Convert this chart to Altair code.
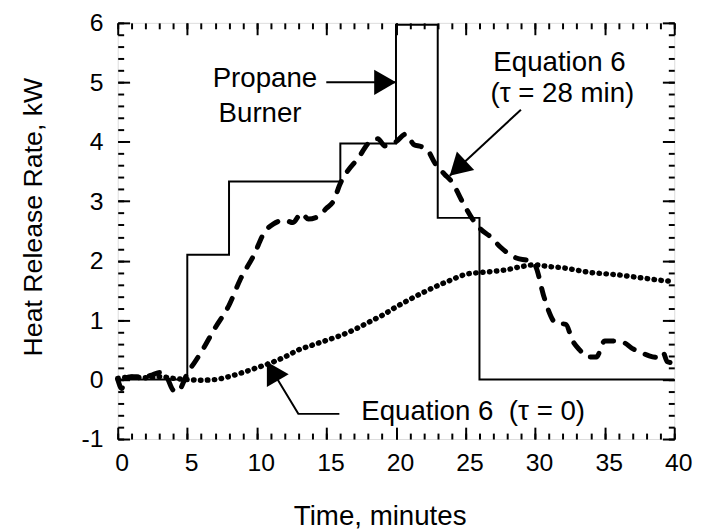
import altair as alt
import pandas as pd

FONT = "Liberation Sans, Arial, Helvetica, sans-serif"

# Propane burner (step function)
burner_t = [0, 5, 8, 16, 20, 23, 26, 40]
burner_q = [0, 2.1, 3.33, 3.97, 5.97, 2.72, 0, 0]

# Equation 6 (tau = 0) -- dotted
eq0_t = [0, 1, 2, 3, 4, 5, 6, 7, 8, 9, 10, 11, 12, 13, 14, 15, 16, 17, 18, 19, 20,
         21, 22, 23, 24, 25, 26, 27, 28, 29, 30, 31, 32, 33, 34, 35, 36, 37, 38, 39, 40]
eq0_q = [0.02, 0.04, 0.03, 0.05, 0.02, 0.0, -0.01, 0.0, 0.05, 0.12, 0.2, 0.28, 0.38, 0.5,
         0.58, 0.66, 0.74, 0.84, 0.96, 1.08, 1.22, 1.35, 1.47, 1.58, 1.68, 1.77, 1.8, 1.82,
         1.85, 1.9, 1.93, 1.9, 1.88, 1.84, 1.8, 1.78, 1.76, 1.73, 1.7, 1.67, 1.65]

# Equation 6 (tau = 28 min) -- dashed
eq28_t = [0, 0.3, 0.5, 1, 2, 2.5, 3, 3.5, 4, 4.3, 5, 6, 7, 8, 8.8, 9.8, 10.5, 11.2, 12,
          12.6, 13.2, 13.7, 14.3, 15, 15.5, 16, 16.5, 17.3, 18, 18.7, 19.2, 20, 20.7, 21.3,
          21.8, 22.3, 22.8, 23.5, 24, 24.8, 25.5, 26, 26.8, 27.5, 28.7, 29.5, 30, 30.6,
          30.9, 31.5, 32.2, 32.7, 33.2, 33.8, 34.4, 35.0, 35.5, 36.3, 37.0, 37.5, 38.2,
          38.9, 39.2, 39.5, 40]
eq28_q = [0.0, -0.15, 0.02, 0.05, 0.05, 0.08, 0.12, 0.05, -0.18, -0.2, 0.1, 0.46, 0.87,
          1.25, 1.68, 2.1, 2.46, 2.62, 2.68, 2.64, 2.8, 2.7, 2.73, 2.88, 3.0, 3.3, 3.5,
          3.73, 3.97, 4.05, 3.93, 4.0, 4.13, 3.95, 3.92, 3.85, 3.64, 3.45, 3.33, 2.98, 2.7,
          2.55, 2.4, 2.23, 2.04, 2.0, 1.92, 1.42, 1.2, 0.95, 0.93, 0.65, 0.5, 0.38, 0.38,
          0.65, 0.65, 0.63, 0.52, 0.47, 0.4, 0.37, 0.45, 0.3, 0.28]

# Axis ticks
x_major = [0, 5, 10, 15, 20, 25, 30, 35, 40]
x_minor = [0, 1, 2, 3, 4, 5, 6, 7, 8, 9, 10, 11, 12, 13, 14, 15, 16, 17, 18, 19, 20,
           21, 22, 23, 24, 25, 26, 27, 28, 29, 30, 31, 32, 33, 34, 35, 36, 37, 38, 39, 40]
y_major = [-1, 0, 1, 2, 3, 4, 5, 6]
y_minor = [-1.0, -0.8, -0.6, -0.4, -0.2, 0.0, 0.2, 0.4, 0.6, 0.8, 1.0, 1.2, 1.4, 1.6, 1.8,
           2.0, 2.2, 2.4, 2.6, 2.8, 3.0, 3.2, 3.4, 3.6, 3.8, 4.0, 4.2, 4.4, 4.6, 4.8, 5.0,
           5.2, 5.4, 5.6, 5.8, 6.0]

# Annotation texts (data coordinates)
center_texts = ["Propane", "Burner", "Equation 6", "(τ = 28 min)"]
center_t = [10.58, 10.23, 31.75, 31.96]
center_q = [4.92, 4.34, 5.19, 4.67]
left_texts = ["Equation 6\u00a0\u00a0(τ = 0)"]
left_t = [17.5]
left_q = [-0.68]

# Arrow shafts
arrow_id = ["A", "A", "B", "B", "C", "C", "C"]
arrow_ord = [0, 1, 0, 1, 0, 1, 2]
arrow_t = [14.99, 20.0, 28.98, 23.86, 15.93, 12.98, 10.72]
arrow_q = [5.0, 5.0, 4.54, 3.43, -0.577, -0.577, 0.30]

# Arrow heads: tip position, rotation
head_t = [20.0, 23.86, 10.72]
head_q = [5.0, 3.43, 0.30]
head_angle = [90, 226.6, 330]
head_dx = [-11, 8, 5.5]
head_dy = [0, -7.5, 9.5]

xs = alt.Scale(domain=[0, 40], nice=False, zero=False)
ys = alt.Scale(domain=[-1, 6], nice=False, zero=False)

burner_df = pd.DataFrame({"t": burner_t, "q": burner_q})
eq0_df = pd.DataFrame({"t": eq0_t, "q": eq0_q})
eq28_df = pd.DataFrame({"t": eq28_t, "q": eq28_q})
arrow_df = pd.DataFrame({"id": arrow_id, "o": arrow_ord, "t": arrow_t, "q": arrow_q})
ctext_df = pd.DataFrame({"label": center_texts, "t": center_t, "q": center_q})
ltext_df = pd.DataFrame({"label": left_texts, "t": left_t, "q": left_q})


def enc(chart):
    return chart.encode(
        x=alt.X("t:Q", scale=xs, axis=None),
        y=alt.Y("q:Q", scale=ys, axis=None),
    )


burner = enc(alt.Chart(burner_df).mark_line(
    interpolate="step-after", color="black", strokeWidth=2))

eq28 = enc(alt.Chart(eq28_df).mark_line(
    color="black", strokeWidth=5, strokeDash=[11, 12], strokeCap="round",
    strokeJoin="round", interpolate="monotone"))

eq0 = enc(alt.Chart(eq0_df).mark_line(
    color="black", strokeWidth=5.5, strokeDash=[0.5, 6.5], strokeCap="round",
    interpolate="monotone"))

arrows = alt.Chart(arrow_df).mark_line(color="black", strokeWidth=2).encode(
    x=alt.X("t:Q", scale=xs, axis=None),
    y=alt.Y("q:Q", scale=ys, axis=None),
    detail="id:N",
    order="o:Q",
)

heads = []
for i in range(len(head_t)):
    hdf = pd.DataFrame({"t": [head_t[i]], "q": [head_q[i]]})
    heads.append(enc(alt.Chart(hdf).mark_point(
        shape="triangle-up", filled=True, size=650, color="black", opacity=1,
        angle=head_angle[i], xOffset=head_dx[i], yOffset=head_dy[i])))

ctext = alt.Chart(ctext_df).mark_text(
    font=FONT, fontSize=28, align="center", baseline="alphabetic", color="black"
).encode(x=alt.X("t:Q", scale=xs, axis=None), y=alt.Y("q:Q", scale=ys, axis=None),
         text="label:N")
ltext = alt.Chart(ltext_df).mark_text(
    font=FONT, fontSize=28, align="left", baseline="alphabetic", color="black"
).encode(x=alt.X("t:Q", scale=xs, axis=None), y=alt.Y("q:Q", scale=ys, axis=None),
         text="label:N")

dummy = pd.DataFrame({"t": [0, 40], "q": [-1, 6]})


def xaxis(axis):
    return alt.Chart(dummy).mark_point(opacity=0).encode(
        x=alt.X("t:Q", scale=xs, axis=axis), y=alt.Y("q:Q", scale=ys, axis=None))


def yaxis(axis):
    return alt.Chart(dummy).mark_point(opacity=0).encode(
        x=alt.X("t:Q", scale=xs, axis=None), y=alt.Y("q:Q", scale=ys, axis=axis))


tick_common = dict(labels=False, domain=False, grid=False, title=None,
                   tickColor="black", tickWidth=2)

x_label_axis = alt.Axis(
    orient="bottom", values=x_major, tickSize=0, domain=False, grid=False,
    labelFont=FONT, labelFontSize=25, labelColor="black", labelPadding=12,
    labelFlush=False, labelOffset=4, labelExpr="'' + datum.value",
    title="Time, minutes", titleFont=FONT, titleFontSize=28, titleFontWeight="normal",
    titleColor="black", titleX=265, titleY=86, titleBaseline="alphabetic",
    titleAnchor="middle", titleAlign="center")
y_label_axis = alt.Axis(
    orient="left", values=y_major, tickSize=0, domain=False, grid=False,
    labelFont=FONT, labelFontSize=25, labelColor="black", labelPadding=15,
    labelFlush=False, labelExpr="'' + datum.value",
    title="Heat Release Rate, kW", titleFont=FONT, titleFontSize=27,
    titleFontWeight="normal", titleColor="black", titleX=-77, titleY=196,
    titleBaseline="alphabetic", titleAngle=270, titleAlign="center")

axis_layers = [
    xaxis(x_label_axis),
    xaxis(alt.Axis(orient="bottom", values=x_major, offset=-12, tickSize=12, **tick_common)),
    xaxis(alt.Axis(orient="bottom", values=x_minor, offset=-6, tickSize=6, **tick_common)),
    xaxis(alt.Axis(orient="top", values=x_major, offset=-12, tickSize=12, **tick_common)),
    xaxis(alt.Axis(orient="top", values=x_minor, offset=-6, tickSize=6, **tick_common)),
    yaxis(y_label_axis),
    yaxis(alt.Axis(orient="left", values=y_major, offset=-12, tickSize=12, **tick_common)),
    yaxis(alt.Axis(orient="left", values=y_minor, offset=-6, tickSize=6, **tick_common)),
    yaxis(alt.Axis(orient="right", values=y_major, offset=-12, tickSize=12, **tick_common)),
    yaxis(alt.Axis(orient="right", values=y_minor, offset=-6, tickSize=6, **tick_common)),
]

chart = alt.layer(
    burner, eq28, eq0, arrows, *heads, ctext, ltext, *axis_layers
).resolve_axis(x="independent", y="independent").properties(
    width=563, height=421,
    autosize=alt.AutoSizeParams(type="none"),
    padding={"left": 111, "top": 12, "right": 22, "bottom": 90},
).configure_view(stroke="black", strokeWidth=2.5).configure(background="white")

chart.save("out.html", embed_options={"renderer": "svg", "actions": False})
